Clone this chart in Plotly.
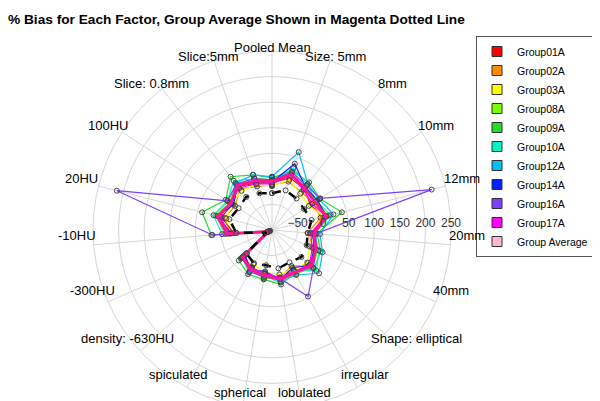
import math
import plotly.graph_objects as go

categories = ["Pooled Mean", "Size: 5mm", "8mm", "10mm", "12mm", "20mm", "40mm",
              "Shape: elliptical", "irregular", "lobulated", "spherical", "spiculated",
              "density: -630HU", "-300HU", "-10HU", "20HU", "100HU", "Slice: 0.8mm", "Slice:5mm"]

group_names = ["Group01A", "Group02A", "Group03A", "Group08A", "Group09A",
               "Group10A", "Group12A", "Group14A", "Group16A", "Group17A"]

g01 = [-8, 8, 2, -10, 3, -22, -5, -4, -14, 0, -12, -10, -28, -92, -25, 2, -8, 8, -3]
g02 = [-12, 0, -6, -4, -2, -30, -12, 2, -20, -6, -8, -18, -24, -95, -18, -4, -14, 2, -10]
g03 = [-14, 4, -10, -14, 6, -26, -20, -6, -12, -12, -16, -24, -34, -96, -30, -8, -6, -3, -6]
g08 = [-2, 18, 8, 2, 14, -18, -2, 8, -2, -4, -4, -14, -18, -90, -8, 14, 2, 12, 8]
g09 = [2, 22, 18, 12, 41, -12, 4, 12, -6, 8, -2, -2, -12, -88, 19, 41, 8, 32, 14]
g10 = [-4, 28, 12, 4, 18, -16, 0, 18, -10, 4, -9, -6, -20, -90, -2, 18, 4, 22, 6]
g12 = [4, 61, 14, 10, 24, -6, 8, 25, 0, 2, -12, -14, -18, -92, -12, 6, -4, 16, 14]
g14 = [-6, 37, 6, 6, 10, -20, -10, 2, -16, -2, -18, -12, -28, -94, -20, 10, -10, 10, 0]
g16 = [-2, 20, 10, 13, 222, -14, -6, 10, 48, -4, -6, -8, -22, -93, 17, 213, 4, 14, 6]
g17 = [-10, 14, 0, -6, 8, -24, -14, 0, -8, -6, -14, -16, -22, -93, -16, 4, -2, 4, -4]
group_values = [g01, g02, g03, g08, g09, g10, g12, g14, g16, g17]

group_average = [-5, 15, 4, 0, 10, -18, -6, 4, -6, -2, -10, -12, -22, -92, -12, 10, -4, 10, 2]
reference_dashed = [-28, -18, -22, -25, -20, -30, -26, -22, -28, -24, -30, -26, -32, -88, -30, -14, -22, -18, -24]

group_colors = ["#FF0000", "#FF8C00", "#FFFF00", "#7CFC00", "#22DD22",
                "#00F5C0", "#00BFFF", "#0022FF", "#7F3FFF", "#FF00FF"]
avg_color = "#FFB6D5"

radial_ticks = [-50, 0, 50, 100, 150, 200, 250]

W, H = 600, 401
CX, CY, RAD = 264, 222, 179   # polar centre / radius in pixels (layout)


def closed(v):
    return list(v) + [v[0]]


theta = closed(categories)
fig = go.Figure()

for name, vals, col in zip(group_names, group_values, group_colors):
    fig.add_trace(go.Scatterpolar(
        r=closed(vals), theta=theta, mode="lines+markers", name=name,
        line=dict(color=col, width=1.2),
        marker=dict(symbol="circle-open", size=5, color="#444444", line=dict(width=1)),
        showlegend=False, cliponaxis=False))

fig.add_trace(go.Scatterpolar(
    r=closed(group_average), theta=theta, mode="lines",
    line=dict(color="#FF1493", width=3),
    showlegend=False, cliponaxis=False))

fig.add_trace(go.Scatterpolar(
    r=closed(reference_dashed), theta=theta, mode="lines+markers",
    line=dict(color="black", width=2.5, dash="dash"),
    marker=dict(symbol="circle-open", size=5, color="#444444"),
    showlegend=False, cliponaxis=False))

# legend entries with square patches
for name, col in zip(group_names + ["Group Average"], group_colors + [avg_color]):
    fig.add_trace(go.Scatterpolar(
        r=[None], theta=[categories[0]], mode="markers", name=name,
        marker=dict(symbol="square", size=10, color=col, line=dict(color="#333333", width=1)),
        showlegend=True))

# category labels placed round the rim, overlapping it as in the reference
annotations = []
n = len(categories)
for k, lab in enumerate(categories):
    a = 2 * math.pi * k / n
    px = CX + 196 * math.sin(a)
    py = CY - 9 - 174 * math.cos(a)
    annotations.append(dict(text=lab, x=px / W, y=1 - py / H, xref="paper", yref="paper",
                            xanchor="center", yanchor="middle", showarrow=False,
                            font=dict(size=13, color="black")))

fig.update_layout(
    width=W, height=H,
    margin=dict(l=0, r=0, t=0, b=0),
    paper_bgcolor="white",
    font=dict(family="Arial, Liberation Sans, sans-serif", color="black"),
    title=dict(text="<b>% Bias for Each Factor, Group Average Shown in Magenta Dotted Line</b>",
               x=0.0, y=0.985, xanchor="left", yanchor="top",
               font=dict(size=13.7, color="black"), pad=dict(l=0, t=0)),
    polar=dict(
        domain=dict(x=[(CX - RAD) / W, (CX + RAD) / W], y=[(H - CY - RAD) / H, (H - CY + RAD) / H]),
        bgcolor="white",
        angularaxis=dict(rotation=90, direction="clockwise", gridcolor="#d6d6d6",
                         linecolor="#d6d6d6", showline=True, ticks="",
                         showticklabels=False),
        radialaxis=dict(range=[-100, 250], tickvals=radial_ticks, angle=0, side="counterclockwise",
                        showline=False, gridcolor="#d6d6d6", ticks="",
                        tickfont=dict(size=12, color="#333333"))),
    annotations=annotations,
    legend=dict(x=468 / W, y=1 - 28 / H, xanchor="left", yanchor="top",
                bordercolor="#555555", borderwidth=1, bgcolor="white",
                font=dict(size=10.5, color="black"), tracegroupgap=0, itemwidth=30),
)

fig.write_html("out.html")
